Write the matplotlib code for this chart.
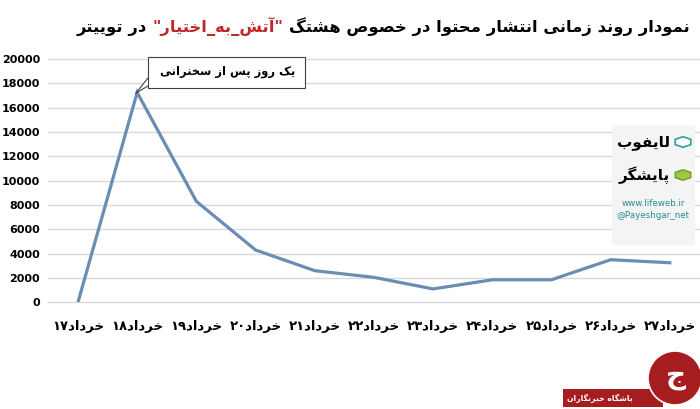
import matplotlib
matplotlib.use("Agg")
import matplotlib.pyplot as plt
import matplotlib.patches as mpatches
import matplotlib.lines as mlines

# --- data ---
days = ["۱۷", "۱۸", "۱۹", "۲۰", "۲۱", "۲۲", "۲۳", "۲۴", "۲۵", "۲۶", "۲۷"]
month = "خرداد"
posts = [0, 17250, 8300, 4300, 2600, 2050, 1100, 1850, 1850, 3500, 3250]
yticks = list(range(0, 20001, 2000))

title_right = "نمودار روند زمانی انتشار محتوا در خصوص هشتگ"
title_tag = "آتش_به_اختیار"
title_left = "در توییتر"
callout = "یک روز پس از سخنرانی"

# --- minimal Persian shaping (matplotlib has no complex text layout) ---
FORMS = {  # isolated, final, initial, medial
    "ا": ("\uFE8D", "\uFE8E"), "آ": ("\uFE81", "\uFE82"),
    "د": ("\uFEA9", "\uFEAA"), "ر": ("\uFEAD", "\uFEAE"),
    "ز": ("\uFEAF", "\uFEB0"), "و": ("\uFEED", "\uFEEE"),
    "ب": ("\uFE8F", "\uFE90", "\uFE91", "\uFE92"),
    "پ": ("\uFB56", "\uFB57", "\uFB58", "\uFB59"),
    "ت": ("\uFE95", "\uFE96", "\uFE97", "\uFE98"),
    "ج": ("\uFE9D", "\uFE9E", "\uFE9F", "\uFEA0"),
    "ح": ("\uFEA1", "\uFEA2", "\uFEA3", "\uFEA4"),
    "خ": ("\uFEA5", "\uFEA6", "\uFEA7", "\uFEA8"),
    "س": ("\uFEB1", "\uFEB2", "\uFEB3", "\uFEB4"),
    "ش": ("\uFEB5", "\uFEB6", "\uFEB7", "\uFEB8"),
    "ص": ("\uFEB9", "\uFEBA", "\uFEBB", "\uFEBC"),
    "ف": ("\uFED1", "\uFED2", "\uFED3", "\uFED4"),
    "ک": ("\uFB8E", "\uFB8F", "\uFB90", "\uFB91"),
    "گ": ("\uFB92", "\uFB93", "\uFB94", "\uFB95"),
    "ل": ("\uFEDD", "\uFEDE", "\uFEDF", "\uFEE0"),
    "م": ("\uFEE1", "\uFEE2", "\uFEE3", "\uFEE4"),
    "ن": ("\uFEE5", "\uFEE6", "\uFEE7", "\uFEE8"),
    "ه": ("\uFEE9", "\uFEEA", "\uFEEB", "\uFEEC"),
    "ی": ("\uFBFC", "\uFBFD", "\uFBFE", "\uFBFF"),
}


def fa(s):
    out = []
    for i, c in enumerate(s):
        if c not in FORMS:
            out.append(c)
            continue
        prev = s[i - 1] if i > 0 else ""
        nxt = s[i + 1] if i + 1 < len(s) else ""
        join_prev = prev in FORMS and len(FORMS[prev]) == 4
        join_next = len(FORMS[c]) == 4 and nxt in FORMS
        f = FORMS[c]
        if join_prev and join_next:
            out.append(f[3])
        elif join_prev:
            out.append(f[1])
        elif join_next:
            out.append(f[2])
        else:
            out.append(f[0])
    return "".join(out)[::-1]


def px(x, y):
    # pixel position (from top-left) -> figure fraction
    return x / W, 1 - y / H


plt.rcParams["font.family"] = ["DejaVu Sans"]

W, H = 700, 409
fig = plt.figure(figsize=(W / 100, H / 100), dpi=100)
ax = fig.add_axes([48.4 / W, (H - 302.3) / H, 651 / W, (302.3 - 59) / H])

x = range(len(posts))
ax.plot(x, posts, color="#6a8db3", lw=2.3, solid_joinstyle="miter", zorder=3)
ax.set_xlim(-0.5, len(posts) - 0.5)
ax.set_ylim(0, 20000)
ax.set_yticks(yticks)
ax.set_yticklabels([str(v) for v in yticks], fontsize=8, weight="bold")
ax.set_xticks(list(x))
ax.set_xticklabels([d + fa(month) for d in days], fontsize=9.5, weight="bold")
ax.tick_params(length=0)
ax.tick_params(axis="x", pad=13)
ax.tick_params(axis="y", pad=6)
ax.grid(axis="y", color="#d9d9d9", lw=1)
for gl in ax.get_ygridlines():
    gl.set_clip_on(False)
for sp in ax.spines.values():
    sp.set_visible(False)
ax.set_axisbelow(True)

# callout box with tail pointing at the peak
fig.patches.append(mpatches.Rectangle(px(148, 88), 157 / W, 31 / H,
                                      transform=fig.transFigure, fc="white",
                                      ec="#404040", lw=0.8, zorder=6))
fig.text(*px(228, 72), fa(callout), ha="center", va="center", fontsize=8.3,
         weight="bold", zorder=9)
tail = [px(148, 78), px(148, 86), px(136, 93)]
fig.patches.append(mpatches.Polygon(tail, closed=True, transform=fig.transFigure,
                                    fc="white", ec="none", zorder=7))
for a in (0, 1):
    fig.lines.append(mlines.Line2D([tail[a][0], tail[2][0]], [tail[a][1], tail[2][1]],
                                   transform=fig.transFigure, color="#404040",
                                   lw=0.8, zorder=8))

# title in three coloured pieces, right to left
tsize = 11.8
t1 = fig.text(*px(690, 27), fa(title_right), ha="right", va="center",
              fontsize=tsize, weight="bold", color="black")
t2 = ax.annotate('"' + fa(title_tag) + '"', xy=(0, 0), xycoords=t1,
                 xytext=(-4, 0), textcoords="offset points", ha="right", va="bottom",
                 fontsize=tsize, weight="bold", color="#c0272d", annotation_clip=False)
t3 = ax.annotate(fa(title_left), xy=(0, 0), xycoords=t2,
                 xytext=(-4, 0), textcoords="offset points", ha="right", va="bottom",
                 fontsize=tsize, weight="bold", color="black", annotation_clip=False)

# lifeweb / payeshgar logo block
fig.patches.append(mpatches.Rectangle(px(612, 245), 83 / W, 120 / H,
                                      transform=fig.transFigure, fc="#f4f4f4",
                                      ec="none", zorder=2))
fig.text(*px(670, 143), fa("لایفوب"), ha="right", va="center",
         fontsize=11, weight="bold", zorder=3)
fig.text(*px(670, 175), fa("پایشگر"), ha="right", va="center",
         fontsize=11, weight="bold", zorder=3)
fig.patches.append(mpatches.RegularPolygon(px(683, 142), 6, radius=9 / W,
                                           transform=fig.transFigure, fc="white",
                                           ec="#2e9c9c", lw=1.2, zorder=3))
fig.patches.append(mpatches.RegularPolygon(px(683, 175), 6, radius=9 / W,
                                           transform=fig.transFigure, fc="#9cc93c",
                                           ec="#6f9a2a", lw=1.0, zorder=3))
fig.text(*px(653, 203), "www.lifeweb.ir", ha="center", va="center",
         fontsize=6.3, color="#2a8c8c", zorder=3)
fig.text(*px(653, 216), "@Payeshgar_net", ha="center", va="center",
         fontsize=6.3, color="#2a8c8c", zorder=3)

# bottom-right watermark
fig.patches.append(mpatches.Rectangle(px(563, 407), 100 / W, 18 / H,
                                      transform=fig.transFigure, fc="#a51d1f",
                                      ec="none", zorder=2))
fig.patches.append(mpatches.Ellipse(px(675, 378), 54 / W, 54 / H,
                                    transform=fig.transFigure, fc="#a51d1f",
                                    ec="white", lw=1.2, zorder=3))
fig.text(*px(676, 376), fa("ج"), ha="center", va="center", fontsize=20,
         color="white", weight="bold", zorder=4)
fig.text(*px(600, 398), fa("باشگاه خبرنگاران"), ha="center", va="center",
         fontsize=5.5, color="white", weight="bold", zorder=4)

fig.savefig("out.png", dpi=100)
